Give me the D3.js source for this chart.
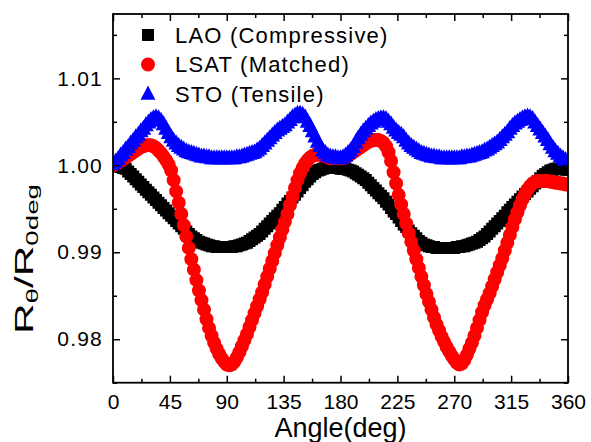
<!DOCTYPE html>
<html lang="en">
  <head>
    <meta charset="UTF-8" />
    <title>R vs angle</title>
    <script src="https://d3js.org/d3.v7.min.js"></script>
    <style>
      body { margin: 0; background: #fff; }
      svg { font-family: "Liberation Sans", Arial, sans-serif; }
      .axis path { display: none; }
      .axis line { stroke: #000; stroke-width: 1.5; }
    </style>
  </head>
  <body>
    <svg width="591" height="442"></svg>
    <script>
      // angle in degrees
      const angle = [0,2,4,6,8,10,12,14,16,18,20,22,24,26,28,30,32,34,36,38,40,42,44,46,48,50,52,54,56,58,
        60,62,64,66,68,70,72,74,76,78,80,82,84,86,88,90,92,94,96,98,100,102,104,106,108,110,112,114,116,118,
        120,122,124,126,128,130,132,134,136,138,140,142,144,146,148,150,152,154,156,158,160,162,164,166,168,170,172,174,176,178,
        180,182,184,186,188,190,192,194,196,198,200,202,204,206,208,210,212,214,216,218,220,222,224,226,228,230,232,234,236,238,
        240,242,244,246,248,250,252,254,256,258,260,262,264,266,268,270,272,274,276,278,280,282,284,286,288,290,292,294,296,298,
        300,302,304,306,308,310,312,314,316,318,320,322,324,326,328,330,332,334,336,338,340,342,344,346,348,350,352,354,356,358,360];

      const lao = [1.0000,0.9999,0.9999,0.9998,0.9997,0.9996,0.9993,0.9990,0.9987,0.9984,0.9981,0.9978,0.9975,0.9972,0.9969,
        0.9966,0.9963,0.9960,0.9957,0.9954,0.9951,0.9948,0.9945,0.9942,0.9939,0.9936,0.9933,0.9930,0.9927,0.9924,
        0.9921,0.9918,0.9916,0.9914,0.9912,0.9911,0.9910,0.9909,0.9908,0.9907,0.9907,0.9906,0.9906,0.9906,0.9906,
        0.9906,0.9906,0.9906,0.9907,0.9907,0.9908,0.9909,0.9910,0.9911,0.9913,0.9915,0.9917,0.9919,0.9921,0.9924,
        0.9927,0.9930,0.9933,0.9936,0.9939,0.9942,0.9945,0.9949,0.9952,0.9956,0.9959,0.9963,0.9966,0.9970,0.9974,
        0.9977,0.9981,0.9984,0.9987,0.9990,0.9992,0.9994,0.9995,0.9996,0.9997,0.9997,0.9997,0.9997,0.9997,0.9997,
        0.9996,0.9996,0.9996,0.9995,0.9994,0.9993,0.9991,0.9989,0.9987,0.9985,0.9983,0.9980,0.9977,0.9974,0.9971,
        0.9968,0.9965,0.9962,0.9958,0.9955,0.9951,0.9947,0.9944,0.9940,0.9936,0.9932,0.9929,0.9925,0.9922,0.9919,
        0.9916,0.9913,0.9911,0.9909,0.9908,0.9907,0.9906,0.9906,0.9905,0.9905,0.9905,0.9905,0.9905,0.9905,0.9905,
        0.9905,0.9906,0.9906,0.9907,0.9907,0.9908,0.9909,0.9910,0.9911,0.9912,0.9914,0.9916,0.9918,0.9921,0.9924,
        0.9927,0.9930,0.9933,0.9936,0.9939,0.9942,0.9946,0.9949,0.9952,0.9955,0.9958,0.9961,0.9964,0.9967,0.9970,
        0.9973,0.9976,0.9979,0.9982,0.9985,0.9988,0.9990,0.9992,0.9994,0.9995,0.9996,0.9996,0.9996,0.9996,0.9995,0.9995];

      const lsat = [1.0000,1.0002,1.0003,1.0005,1.0007,1.0009,1.0011,1.0013,1.0015,1.0017,1.0019,1.0021,1.0022,1.0023,1.0023,
        1.0023,1.0022,1.0020,1.0017,1.0014,1.0010,1.0006,1.0001,0.9994,0.9983,0.9970,0.9957,0.9944,0.9931,0.9918,
        0.9905,0.9892,0.9880,0.9868,0.9856,0.9845,0.9834,0.9823,0.9813,0.9804,0.9796,0.9789,0.9783,0.9778,0.9774,
        0.9771,0.9770,0.9771,0.9774,0.9779,0.9785,0.9792,0.9799,0.9806,0.9814,0.9822,0.9830,0.9838,0.9846,0.9854,
        0.9863,0.9872,0.9881,0.9890,0.9899,0.9908,0.9917,0.9926,0.9935,0.9944,0.9954,0.9964,0.9974,0.9983,0.9991,
        0.9997,1.0002,1.0006,1.0009,1.0011,1.0012,1.0012,1.0012,1.0011,1.0010,1.0009,1.0008,1.0008,1.0008,1.0008,
        1.0008,1.0008,1.0009,1.0011,1.0013,1.0015,1.0017,1.0019,1.0021,1.0023,1.0025,1.0027,1.0028,1.0029,1.0029,
        1.0029,1.0028,1.0026,1.0022,1.0015,1.0005,0.9992,0.9979,0.9966,0.9955,0.9944,0.9933,0.9922,0.9912,0.9902,
        0.9892,0.9882,0.9872,0.9862,0.9852,0.9843,0.9834,0.9825,0.9817,0.9810,0.9803,0.9797,0.9791,0.9786,0.9781,
        0.9777,0.9773,0.9771,0.9772,0.9776,0.9782,0.9789,0.9796,0.9804,0.9813,0.9822,0.9831,0.9839,0.9846,0.9853,
        0.9861,0.9869,0.9877,0.9885,0.9893,0.9902,0.9911,0.9920,0.9929,0.9938,0.9946,0.9954,0.9961,0.9967,0.9972,
        0.9976,0.9979,0.9981,0.9982,0.9982,0.9982,0.9982,0.9982,0.9981,0.9981,0.9980,0.9980,0.9979,0.9979,0.9978,0.9978];

      const sto = [1.0000,1.0003,1.0006,1.0010,1.0013,1.0017,1.0020,1.0024,1.0027,1.0031,1.0034,1.0038,1.0041,1.0045,1.0048,
        1.0051,1.0053,1.0054,1.0053,1.0050,1.0046,1.0041,1.0036,1.0031,1.0027,1.0024,1.0021,1.0019,1.0017,1.0015,
        1.0014,1.0013,1.0012,1.0011,1.0010,1.0009,1.0009,1.0008,1.0008,1.0007,1.0007,1.0007,1.0007,1.0007,1.0007,
        1.0007,1.0007,1.0007,1.0007,1.0008,1.0008,1.0009,1.0010,1.0011,1.0012,1.0013,1.0014,1.0016,1.0018,1.0021,
        1.0024,1.0027,1.0030,1.0033,1.0036,1.0039,1.0041,1.0043,1.0045,1.0048,1.0051,1.0054,1.0056,1.0058,1.0058,
        1.0057,1.0054,1.0049,1.0044,1.0038,1.0032,1.0026,1.0021,1.0016,1.0013,1.0010,1.0009,1.0008,1.0008,1.0007,
        1.0007,1.0008,1.0010,1.0013,1.0016,1.0020,1.0025,1.0030,1.0034,1.0038,1.0041,1.0044,1.0047,1.0049,1.0051,
        1.0052,1.0053,1.0053,1.0052,1.0049,1.0046,1.0042,1.0039,1.0036,1.0034,1.0031,1.0027,1.0024,1.0021,1.0019,
        1.0017,1.0015,1.0013,1.0012,1.0011,1.0010,1.0009,1.0009,1.0008,1.0008,1.0007,1.0007,1.0007,1.0007,1.0007,
        1.0007,1.0007,1.0007,1.0008,1.0008,1.0009,1.0009,1.0010,1.0011,1.0012,1.0013,1.0014,1.0016,1.0017,1.0019,
        1.0021,1.0023,1.0025,1.0028,1.0031,1.0034,1.0037,1.0041,1.0044,1.0047,1.0049,1.0051,1.0053,1.0054,1.0055,
        1.0054,1.0052,1.0048,1.0044,1.0040,1.0036,1.0032,1.0028,1.0023,1.0019,1.0015,1.0012,1.0009,1.0007,1.0005,1.0004];

      const xTicks = [0,45,90,135,180,225,270,315,360];
      const xMinor = [22.5,67.5,112.5,157.5,202.5,247.5,292.5,337.5];
      const yTicks = [0.98,0.99,1.00,1.01];
      const yMinor = [0.975,0.985,0.995,1.005,1.015];

      // Origin-style up triangle, about as tall as it is wide
      const triangleUp = {
        draw: function (context, size) {
          const h = Math.sqrt(size);
          const w = h * 1.05;
          context.moveTo(0, -h * 2 / 3);
          context.lineTo(w / 2, h / 3);
          context.lineTo(-w / 2, h / 3);
          context.closePath();
        }
      };

      const series = [
        { name: "LAO (Compressive)", values: lao, color: "#000000", shape: d3.symbolSquare, size: 144 },
        { name: "LSAT (Matched)", values: lsat, color: "#ff0000", shape: d3.symbolCircle, size: 154 },
        { name: "STO (Tensile)", values: sto, color: "#0000ff", shape: triangleUp, size: 225 }
      ];

      const svg = d3.select("svg");
      const pLeft = 113, pRight = 568, pTop = 14, pBottom = 382.7;

      const x = d3.scaleLinear().domain([0, 360]).range([pLeft, pRight]);
      const y = d3.scaleLinear().domain([0.975, 1.0174]).range([pBottom, pTop]);

      svg.append("clipPath").attr("id", "plot")
        .append("rect")
        .attr("x", pLeft).attr("y", pTop)
        .attr("width", pRight - pLeft).attr("height", pBottom - pTop);

      const marks = svg.append("g").attr("clip-path", "url(#plot)");
      series.forEach(function (s) {
        marks.append("g")
          .selectAll("path")
          .data(angle)
          .enter()
          .append("path")
          .attr("d", d3.symbol().type(s.shape).size(s.size))
          .attr("transform", function (d, i) {
            return "translate(" + x(d) + "," + y(s.values[i]) + ")";
          })
          .attr("fill", s.color);
      });

      // ticks point inward on all four sides
      function addAxis(axis, tx, ty) {
        return svg.append("g").attr("class", "axis")
          .attr("transform", "translate(" + tx + "," + ty + ")")
          .call(axis);
      }

      const xb = addAxis(d3.axisBottom(x).tickValues(xTicks).tickSize(-7).tickPadding(11), 0, pBottom);
      xb.selectAll("text").attr("font-size", 21).attr("fill", "#000").attr("font-family", null);
      addAxis(d3.axisBottom(x).tickValues(xMinor).tickSize(-4).tickFormat(""), 0, pBottom);
      addAxis(d3.axisTop(x).tickValues(xTicks).tickSize(-7).tickFormat(""), 0, pTop);
      addAxis(d3.axisTop(x).tickValues(xMinor).tickSize(-4).tickFormat(""), 0, pTop);

      const yl = addAxis(d3.axisLeft(y).tickValues(yTicks).tickSize(-7).tickPadding(10).tickFormat(d3.format(".2f")), pLeft, 0);
      yl.selectAll("text").attr("font-size", 21).attr("fill", "#000").attr("font-family", null)
        .attr("letter-spacing", 1.2);
      addAxis(d3.axisLeft(y).tickValues(yMinor).tickSize(-4).tickFormat(""), pLeft, 0);
      addAxis(d3.axisRight(y).tickValues(yTicks).tickSize(-7).tickFormat(""), pRight, 0);
      addAxis(d3.axisRight(y).tickValues(yMinor).tickSize(-4).tickFormat(""), pRight, 0);

      svg.append("rect")
        .attr("x", pLeft).attr("y", pTop)
        .attr("width", pRight - pLeft).attr("height", pBottom - pTop)
        .attr("fill", "none").attr("stroke", "#000").attr("stroke-width", 1.8);

      // legend
      const legend = svg.append("g");
      series.forEach(function (s, i) {
        const ly = 35 + i * 29.5;
        legend.append("path")
          .attr("d", d3.symbol().type(s.shape).size(s.shape === triangleUp ? 200 : s.size))
          .attr("transform", "translate(148," + (ly + (s.shape === triangleUp ? 1 : 0)) + ")")
          .attr("fill", s.color);
        legend.append("text")
          .attr("x", 175).attr("y", ly + 7.5)
          .attr("font-size", 22)
          .attr("letter-spacing", 1.2)
          .text(s.name);
      });

      // axis titles
      svg.append("text")
        .attr("x", (pLeft + pRight) / 2).attr("y", 437)
        .attr("text-anchor", "middle")
        .attr("font-size", 27)
        .text("Angle(deg)");

      const yt = svg.append("text")
        .attr("transform", "translate(33,259) rotate(-90)")
        .attr("text-anchor", "middle")
        .attr("font-size", 26)
        .attr("textLength", 150)
        .attr("lengthAdjust", "spacingAndGlyphs");
      yt.append("tspan").text("R");
      yt.append("tspan").attr("font-size", 17).attr("dy", 5).text("θ");
      yt.append("tspan").attr("dy", -5).text("/R");
      yt.append("tspan").attr("font-size", 17).attr("dy", 5).text("0deg");
    </script>
  </body>
</html>
